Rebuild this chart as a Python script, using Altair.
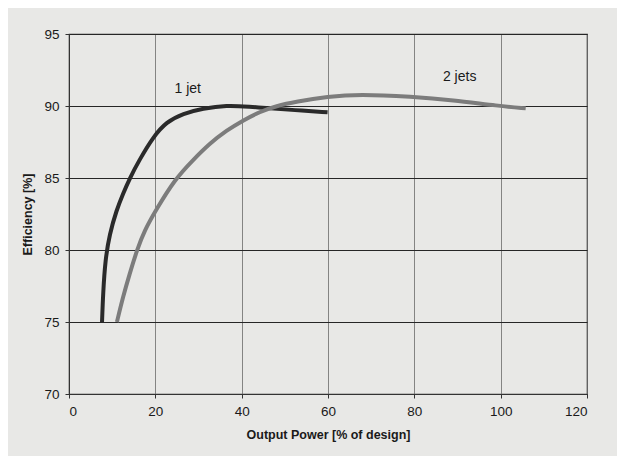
import altair as alt
import pandas as pd

# 1 jet curve
jet1_x = [7.65, 7.9, 8.4, 9.4, 11.0, 12.5, 14.1, 16.2, 19.5, 22.6, 26.4, 31.0, 36.5, 41.9, 46.4, 52.0, 59.9]
jet1_y = [75.0, 77.0, 79.3, 81.1, 82.76, 83.9, 85.0, 86.2, 87.86, 88.9, 89.48, 89.83, 90.06, 89.95, 89.84, 89.72, 89.56]

# 2 jets curve
jet2_x = [11.1, 12.5, 14.06, 15.75, 17.5, 20.2, 24.5, 28.7, 32.6, 36.5, 40.3, 44.2, 48.0, 52.6, 59.9, 67.2, 79.5, 88.8, 99.6, 105.8]
jet2_y = [75.0, 76.73, 78.36, 80.0, 81.37, 82.8, 84.9, 86.24, 87.4, 88.3, 89.0, 89.6, 90.0, 90.3, 90.65, 90.83, 90.65, 90.42, 90.0, 89.84]

series_names = ["1 jet", "2 jets"]
series_colors = ["#2a2a2a", "#7c7c7c"]

label_text = ["1 jet", "2 jets"]
label_x = [27.5, 90.5]
label_y = [91.2, 92.0]

rows = []
for x, y in zip(jet1_x, jet1_y):
    rows.append({"x": x, "y": y, "series": "1 jet"})
for x, y in zip(jet2_x, jet2_y):
    rows.append({"x": x, "y": y, "series": "2 jets"})
df = pd.DataFrame(rows)
labels = pd.DataFrame({"x": label_x, "y": label_y, "t": label_text})

xscale = alt.Scale(domain=[0, 120], nice=False, zero=False)
yscale = alt.Scale(domain=[70, 95], nice=False, zero=False)

lines = alt.Chart(df).mark_line(strokeWidth=4, interpolate="basis", strokeCap="butt").encode(
    x=alt.X("x:Q", scale=xscale,
            axis=alt.Axis(title="Output Power [% of design]", values=[0, 20, 40, 60, 80, 100, 120],
                          gridColor="#6a6a6a", gridWidth=0.8, titlePadding=11)),
    y=alt.Y("y:Q", scale=yscale,
            axis=alt.Axis(title="Efficiency [%]", values=[70, 75, 80, 85, 90, 95],
                          gridColor="#262626", gridWidth=1.1, titlePadding=9)),
    color=alt.Color("series:N", scale=alt.Scale(domain=series_names, range=series_colors), legend=None),
    detail="series:N",
)

text = alt.Chart(labels).mark_text(fontSize=14, font="Liberation Sans", color="#1a1a1a").encode(
    x=alt.X("x:Q", scale=xscale),
    y=alt.Y("y:Q", scale=yscale),
    text="t:N",
)

chart = (lines + text).properties(
    width=518, height=360,
    autosize=alt.AutoSizeParams(type="none"),
    padding={"left": 61, "top": 26, "right": 30, "bottom": 62},
    background="#e8e8e6",
).configure_view(
    stroke="#333333", strokeWidth=1.2
).configure_axis(
    labelFont="Liberation Sans", labelFontSize=13.5, labelColor="#1a1a1a",
    titleFont="Liberation Sans", titleFontSize=12.5, titleFontWeight="bold", titleColor="#1a1a1a",
    domainColor="#333333", tickColor="#333333", tickSize=4, labelPadding=6,
)

chart.save("out.html", embed_options={"renderer": "svg", "actions": False})
